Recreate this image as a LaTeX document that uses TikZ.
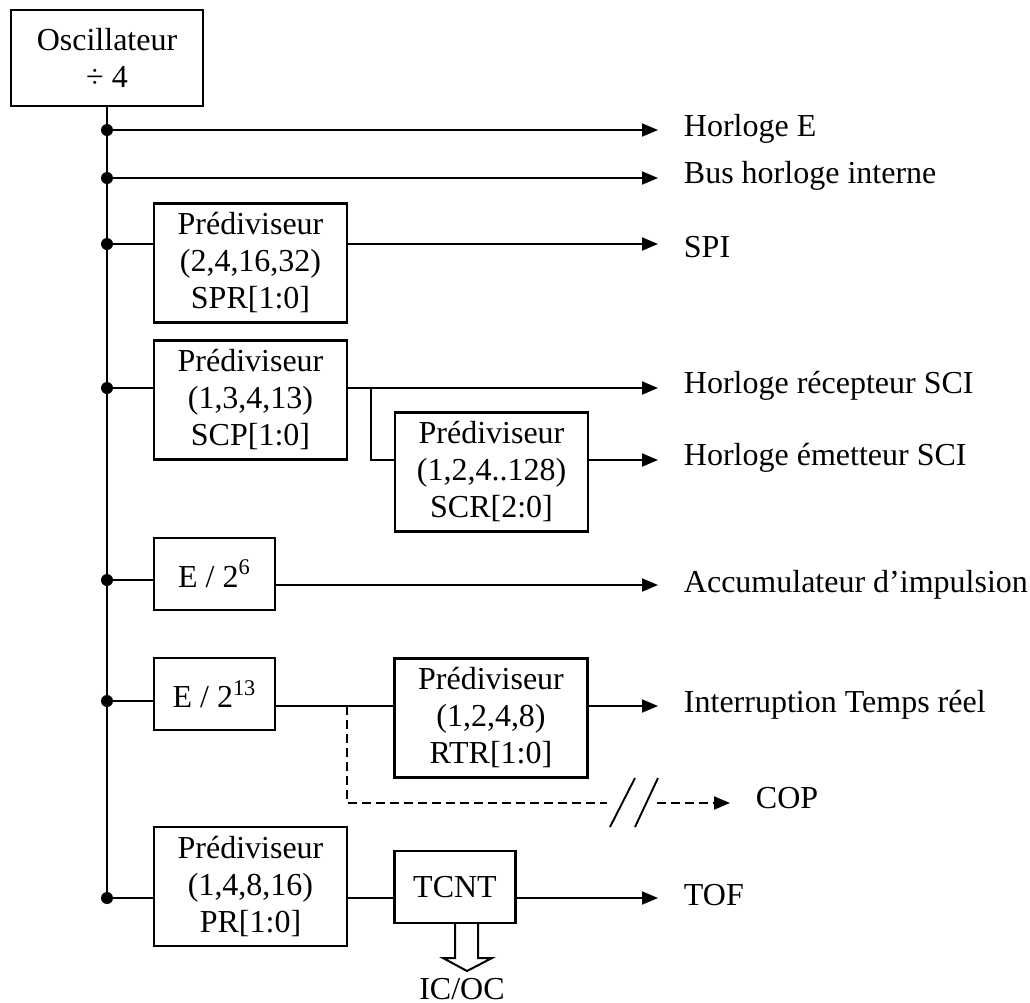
\documentclass[tikz,border=0pt]{standalone}
\usepackage{fontspec}
\setmainfont{Liberation Serif}
\usetikzlibrary{arrows.meta,positioning}

\begin{document}
\begin{tikzpicture}[x=0.5pt,y=-0.5pt,line width=0.95pt,
    >={Triangle[length=8pt,width=6.5pt]},
    every node/.style={font=\fontsize{16}{18.5}\selectfont},
    block/.style={draw,line width=1.1pt,align=center,inner sep=0pt},
    bigbox/.style={block,minimum width=96.5pt,minimum height=59.5pt},
    smallbox/.style={block,minimum width=60.5pt,minimum height=36pt},
    lbl/.style={anchor=base west,inner sep=0pt},
    copline/.style={dash pattern=on 4.5pt off 2.5pt}]
  \useasboundingbox (0,0) rectangle (1030,1003);

  % blocks
  \node[block,minimum width=96pt,minimum height=48pt] (osc) at (107,58) {Oscillateur\\÷ 4};
  \node[bigbox]   (spr)    at (250.5,263)   {Prédiviseur\\(2,4,16,32)\\SPR[1:0]};
  \node[bigbox]   (scp)    at (250.5,400)   {Prédiviseur\\(1,3,4,13)\\SCP[1:0]};
  \node[bigbox]   (scr)    at (491.5,472)   {Prédiviseur\\(1,2,4..128)\\SCR[2:0]};
  \node[smallbox] (ediv6)  at (214.5,574)   {E / 2\textsuperscript{6}};
  \node[smallbox] (ediv13) at (214.5,694)   {E / 2\textsuperscript{13}};
  \node[bigbox]   (rtr)    at (491,718)     {Prédiviseur\\(1,2,4,8)\\RTR[1:0]};
  \node[bigbox]   (pr)     at (250.5,886.5) {Prédiviseur\\(1,4,8,16)\\PR[1:0]};
  \node[smallbox] (tcnt)   at (455,887)     {TCNT};

  % outputs
  \node[lbl] (horE)   at (683,136) {Horloge E};
  \node[lbl] (busint) at (683,183) {Bus horloge interne};
  \node[lbl] (spi)    at (683,257) {SPI};
  \node[lbl] (recSCI) at (683,393) {Horloge récepteur SCI};
  \node[lbl] (emSCI)  at (683,465) {Horloge émetteur SCI};
  \node[lbl] (acc)    at (683,592) {Accumulateur d’impulsion};
  \node[lbl] (irt)    at (683,712) {Interruption Temps réel};
  \node[lbl] (cop)    at (755,808) {COP};
  \node[lbl] (tof)    at (683,905) {TOF};
  \node[anchor=base,inner sep=0pt] (icoc) at (462,999) {IC/OC};

  % bus
  \coordinate (tip) at (658,0);
  \coordinate (j1) at (107,130);
  \coordinate (j2) at (107,178);
  \coordinate (j3) at (107,244);
  \coordinate (j4) at (107,388);
  \coordinate (j5) at (107,580);
  \coordinate (j6) at (107,701);
  \coordinate (j7) at (107,898);
  \draw (osc.south) -- (j7);
  \foreach \i in {1,...,7}
    \fill (j\i) circle (3pt);

  \draw[->] (j1) -- (j1 -| tip);
  \draw[->] (j2) -- (j2 -| tip);

  \draw (j3) -- (j3 -| spr.west);
  \draw[->] (j3 -| spr.east) -- (j3 -| tip);

  \draw (j4) -- (j4 -| scp.west);
  \draw[->] (j4 -| scp.east) -- (j4 -| tip);
  \coordinate (br) at (371,388);
  \coordinate (brlow) at (371,460);
  \draw (br) -- (brlow) -- (brlow -| scr.west);
  \draw[->] (brlow -| scr.east) -- (brlow -| tip);

  \coordinate (acclevel) at (0,585);
  \draw (j5) -- (j5 -| ediv6.west);
  \draw[->] (ediv6.east |- acclevel) -- (tip |- acclevel);

  \coordinate (rtlevel) at (0,706);
  \draw (j6) -- (j6 -| ediv13.west);
  \draw (ediv13.east |- rtlevel) -- (rtr.west |- rtlevel);
  \draw[->] (rtr.east |- rtlevel) -- (tip |- rtlevel);

  % COP, broken line
  \coordinate (cop0) at (347,706);
  \coordinate (cop1) at (347,803);
  \coordinate (brk1) at (607,803);
  \coordinate (brk2) at (657,803);
  \coordinate (coptip) at (730,803);
  \draw[copline] (cop0) -- (cop1) -- (brk1);
  \draw[copline,->] (brk2) -- (coptip);
  \draw (610,827) -- (635,778);
  \draw (635,827) -- (658,778);

  \draw (j7) -- (pr.west |- j7);
  \draw (pr.east |- j7) -- (tcnt.west |- j7);
  \draw[->] (tcnt.east |- j7) -- (tip |- j7);

  % IC/OC
  \draw[line width=1pt] (455,923) -- (455,958) -- (443,958) -- (467,971)
    -- (492,958) -- (478,958) -- (478,923);
\end{tikzpicture}
\end{document}
